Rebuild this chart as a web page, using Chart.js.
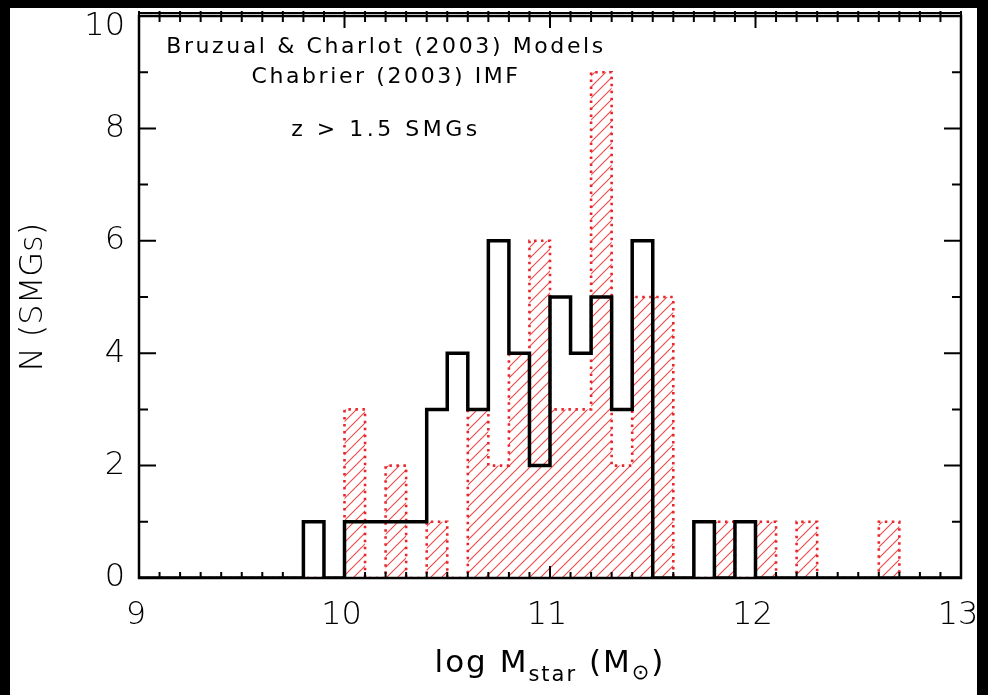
<!DOCTYPE html>
<html lang="en">

<head>
    <meta charset="UTF-8">
    <title>Stellar mass histogram of SMGs</title>
    <script src="https://cdn.jsdelivr.net/npm/chart.js"></script>
    <style>
        body { margin: 0; background: #000; }
        #frame { position: absolute; left: 10px; top: 8px; width: 967px; height: 687px; background: #fff; }
    </style>
</head>

<body>
    <div id="frame"><canvas id="massChart" width="967" height="687"></canvas></div>

    <script>
        // histogram bins: 9.0 - 13.0 in steps of 0.1 (counts per bin, rows of ten)
        const binStart = 9.0;
        const binWidth = 0.1;
        const blackCounts = [
            0, 0, 0, 0, 0, 0, 0, 0, 1, 0,
            1, 1, 1, 1, 3, 4, 3, 6, 4, 2,
            5, 4, 5, 3, 6, 0, 0, 1, 0, 1,
            0, 0, 0, 0, 0, 0, 0, 0, 0, 0
        ];
        const redCounts = [
            0, 0, 0, 0, 0, 0, 0, 0, 0, 0,
            3, 0, 2, 0, 1, 0, 3, 2, 4, 6,
            3, 3, 9, 2, 5, 5, 0, 0, 1, 0,
            1, 0, 1, 0, 0, 0, 1, 0, 0, 0
        ];
        const xTicks = [9, 10, 11, 12, 13];
        const yTicks = [0, 2, 4, 6, 8, 10];
        const notes = ['Bruzual & Charlot (2003) Models', 'Chabrier (2003) IMF', 'z > 1.5 SMGs'];

        const tickFont = { family: 'DejaVu Sans', size: 32, weight: 300 };

        // step outline points: each bin value held from its left edge to the next edge
        function stepPoints(counts) {
            const pts = counts.map((c, i) => ({ x: +(binStart + i * binWidth).toFixed(1), y: c }));
            pts.push({ x: +(binStart + counts.length * binWidth).toFixed(1), y: 0 });
            return pts;
        }

        // diagonal hatch for the red histogram
        function hatchPattern() {
            const c = document.createElement('canvas');
            c.width = 11; c.height = 11;
            const g = c.getContext('2d');
            g.strokeStyle = 'rgba(235, 40, 40, 0.85)';
            g.lineWidth = 1.1;
            g.beginPath();
            g.moveTo(-1, 12); g.lineTo(12, -1);
            g.moveTo(-1, 1); g.lineTo(1, -1);
            g.moveTo(10, 12); g.lineTo(12, 10);
            g.stroke();
            return g.createPattern(c, 'repeat');
        }

        // no extra room for half-labels at the scale ends
        function noEndPadding(s) {
            s.paddingTop = 0; s.paddingBottom = 0;
            s.paddingLeft = 0; s.paddingRight = 0;
        }

        // inward ticks on all four sides, frame, notes and x-axis title
        const idlAxes = {
            id: 'idlAxes',
            afterDatasetsDraw(chart) {
                const { ctx, chartArea: a, scales: { x, y } } = chart;
                ctx.save();
                ctx.strokeStyle = '#000';
                ctx.lineWidth = 2;
                ctx.beginPath();
                for (let i = 0; i <= 40; i++) {
                    const px = x.getPixelForValue(binStart + i * binWidth);
                    const len = i % 10 === 0 ? 12 : 6;
                    ctx.moveTo(px, a.bottom); ctx.lineTo(px, a.bottom - len);
                    ctx.moveTo(px, a.top - 5); ctx.lineTo(px, a.top + len);
                }
                for (let v = 0; v <= 10; v++) {
                    const py = y.getPixelForValue(v);
                    const len = v % 2 === 0 ? 17 : 9;
                    ctx.moveTo(a.left, py); ctx.lineTo(a.left + len, py);
                    ctx.moveTo(a.right, py); ctx.lineTo(a.right - len, py);
                }
                ctx.stroke();
                ctx.lineWidth = 2.5;
                ctx.strokeRect(a.left, a.top, a.right - a.left, a.bottom - a.top);
                ctx.lineWidth = 2;
                ctx.beginPath();
                ctx.moveTo(a.left, a.top - 3); ctx.lineTo(a.right, a.top - 3);
                ctx.stroke();
                ctx.restore();
            },
            afterDraw(chart) {
                const { ctx, chartArea: a, scales: { y } } = chart;
                ctx.save();
                ctx.fillStyle = '#000';

                // top y label sits a little below its tick, as in the original
                const topTick = yTicks[yTicks.length - 1];
                ctx.font = `${tickFont.weight} ${tickFont.size}px "${tickFont.family}"`;
                ctx.textAlign = 'right';
                ctx.textBaseline = 'middle';
                ctx.fillText(String(topTick), a.left - 14, y.getPixelForValue(topTick) + 11);

                ctx.textAlign = 'center';
                ctx.font = '22px "DejaVu Sans"';
                ctx.letterSpacing = '2.6px';
                ctx.fillText(notes[0], 376, 39);
                ctx.fillText(notes[1], 376, 69);
                ctx.letterSpacing = '3.5px';
                ctx.fillText(notes[2], 376, 122);

                // x-axis title with subscript
                ctx.letterSpacing = '2px';
                ctx.textAlign = 'left';
                ctx.textBaseline = 'alphabetic';
                const big = '31px "DejaVu Sans"', small = '21px "DejaVu Sans"';
                const parts = [['log M', big, 0], ['star', small, 9], [' (M', big, 0], ['\u2299', small, 7], [')', big, 0]];
                let w = 0;
                parts.forEach(p => { ctx.font = p[1]; w += ctx.measureText(p[0]).width; });
                let px = (a.left + a.right) / 2 - w / 2;
                const base = 664;
                parts.forEach(p => {
                    ctx.font = p[1];
                    ctx.fillText(p[0], px, base + p[2]);
                    px += ctx.measureText(p[0]).width;
                });
                ctx.restore();
            }
        };

        const ctx = document.getElementById('massChart').getContext('2d');
        new Chart(ctx, {
            type: 'line',
            data: {
                datasets: [{
                    label: 'SMGs (black)',
                    data: stepPoints(blackCounts),
                    stepped: 'before',
                    borderColor: '#000',
                    borderWidth: 3.5,
                    pointRadius: 0,
                    fill: false,
                    order: 0
                }, {
                    label: 'SMGs (red, hatched)',
                    data: stepPoints(redCounts),
                    stepped: 'before',
                    borderColor: '#e8262b',
                    borderWidth: 2.6,
                    borderDash: [2.5, 4.5],
                    backgroundColor: hatchPattern(),
                    pointRadius: 0,
                    fill: 'origin',
                    order: 1
                }]
            },
            options: {
                responsive: false,
                animation: false,
                devicePixelRatio: 1,
                layout: { autoPadding: false, padding: { top: 8, right: 16, left: 0, bottom: 0 } },
                plugins: { legend: { display: false }, tooltip: { enabled: false } },
                scales: {
                    x: {
                        type: 'linear',
                        min: 9, max: 13,
                        afterFit: s => { s.height = 117; noEndPadding(s); },
                        afterBuildTicks: s => { s.ticks = xTicks.map(v => ({ value: v })); },
                        grid: { display: false, drawTicks: false },
                        border: { display: false },
                        ticks: {
                            padding: 18,
                            labelOffset: -3,
                            color: '#000',
                            maxRotation: 0,
                            font: tickFont
                        }
                    },
                    y: {
                        min: 0, max: 10,
                        afterFit: s => { s.width = 129; noEndPadding(s); },
                        afterBuildTicks: s => { s.ticks = yTicks.map(v => ({ value: v })); },
                        grid: { display: false, drawTicks: false },
                        border: { display: false },
                        title: {
                            display: true,
                            text: 'N (SMGs)',
                            color: '#000',
                            padding: { top: 4, bottom: 0 },
                            font: { family: 'DejaVu Sans', size: 32, weight: 300 }
                        },
                        ticks: {
                            padding: 14,
                            color: '#000',
                            font: tickFont,
                            // the top label is drawn by the plugin, slightly lowered
                            callback: v => (v === yTicks[yTicks.length - 1] ? '' : String(v))
                        }
                    }
                }
            },
            plugins: [idlAxes]
        });
    </script>
</body>

</html>
